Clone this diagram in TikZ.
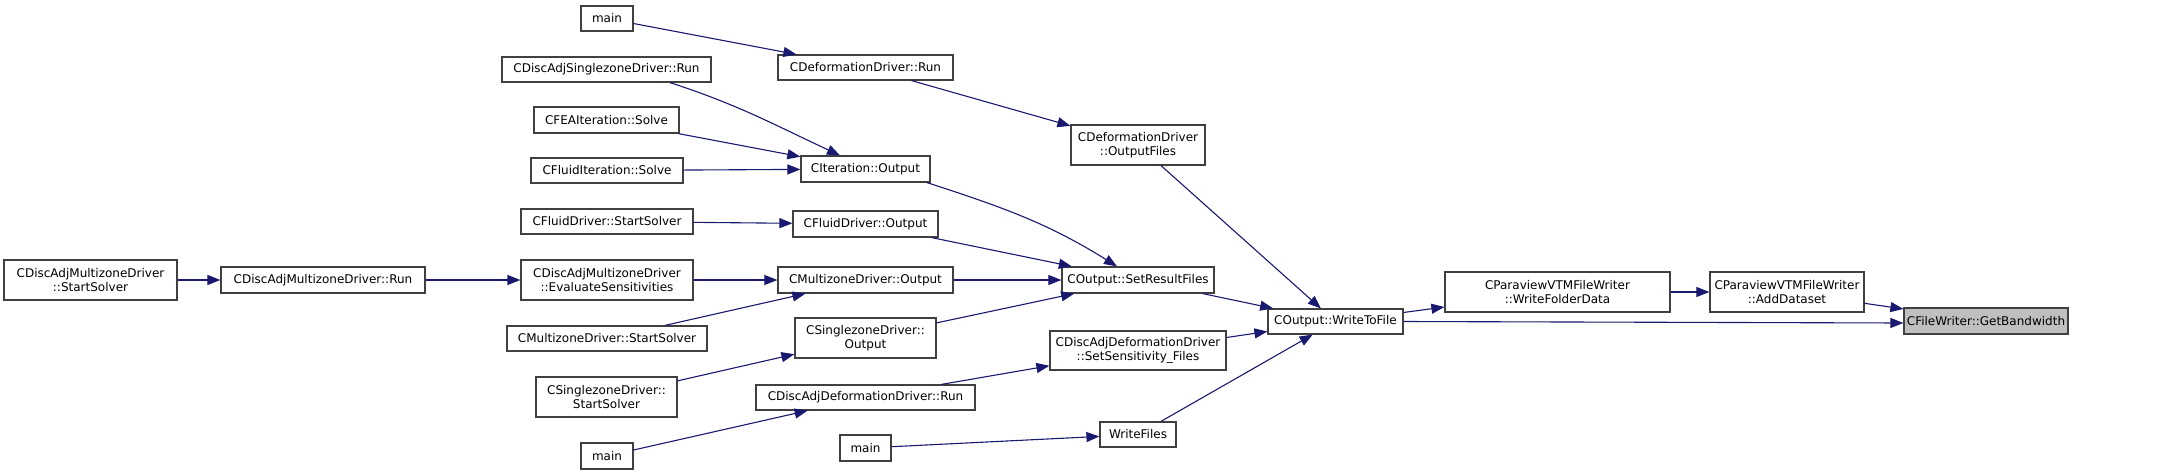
\documentclass[tikz,border=0pt]{standalone}
\usepackage{fontspec}
\setmainfont{DejaVu Sans}
\usetikzlibrary{arrows.meta}
\definecolor{edgec}{HTML}{191970}
\definecolor{boxc}{HTML}{404040}
\definecolor{hilite}{HTML}{BFBFBF}
\tikzset{
  box/.style={draw=boxc, line width=1.2pt, inner sep=0pt, align=center, fill=white,
    font=\fontsize{12}{14.5}\selectfont},
  edge/.style={draw=edgec, line width=1.1pt, -{Triangle[length=13pt,width=10pt]}, color=edgec}
}
\begin{document}
\begin{tikzpicture}[x=1pt,y=-1pt]
\useasboundingbox (0,0) rectangle (2172,475);
% column 1
\node[box, minimum width=173pt, minimum height=40pt] (dmzs) at (90.5,280) {CDiscAdjMultizoneDriver\\::StartSolver};
% column 2
\node[box, minimum width=204pt, minimum height=26pt] (dmzr) at (323,280) {CDiscAdjMultizoneDriver::Run};
% column 3
\node[box, minimum width=52pt, minimum height=25pt] (main1) at (607,18.5) {main};
\node[box, minimum width=209pt, minimum height=25pt] (daszr) at (606.5,69.5) {CDiscAdjSinglezoneDriver::Run};
\node[box, minimum width=145pt, minimum height=26pt] (feas) at (606.5,120) {CFEAIteration::Solve};
\node[box, minimum width=152pt, minimum height=25pt] (fis) at (607,170.5) {CFluidIteration::Solve};
\node[box, minimum width=172pt, minimum height=25pt] (fds) at (607,221.5) {CFluidDriver::StartSolver};
\node[box, minimum width=172pt, minimum height=40pt] (evs) at (607,280) {CDiscAdjMultizoneDriver\\::EvaluateSensitivities};
\node[box, minimum width=200pt, minimum height=25pt] (mzs) at (607,338.5) {CMultizoneDriver::StartSolver};
\node[box, minimum width=141pt, minimum height=40pt] (szs) at (606.5,397) {CSinglezoneDriver::\\StartSolver};
\node[box, minimum width=52pt, minimum height=26pt] (main2) at (607,456) {main};
% column 4
\node[box, minimum width=175pt, minimum height=25pt] (defr) at (865.5,67.5) {CDeformationDriver::Run};
\node[box, minimum width=129pt, minimum height=26pt] (itout) at (865.5,169) {CIteration::Output};
\node[box, minimum width=145pt, minimum height=26pt] (fdout) at (865.5,224) {CFluidDriver::Output};
\node[box, minimum width=175pt, minimum height=26pt] (mzout) at (865.5,280) {CMultizoneDriver::Output};
\node[box, minimum width=141pt, minimum height=40pt] (szout) at (865.5,338) {CSinglezoneDriver::\\Output};
\node[box, minimum width=219pt, minimum height=25pt] (dadr) at (865.5,397.5) {CDiscAdjDeformationDriver::Run};
\node[box, minimum width=51pt, minimum height=26pt] (main3) at (865.5,448) {main};
% column 5
\node[box, minimum width=134pt, minimum height=40pt] (defof) at (1138,145) {CDeformationDriver\\::OutputFiles};
\node[box, minimum width=152pt, minimum height=26pt] (srf) at (1138,280) {COutput::SetResultFiles};
\node[box, minimum width=176pt, minimum height=39pt] (ssf) at (1138,350.5) {CDiscAdjDeformationDriver\\::SetSensitivity\_Files};
\node[box, minimum width=76pt, minimum height=25pt] (wf) at (1138,434.5) {WriteFiles};
% column 6+
\node[box, minimum width=135pt, minimum height=25pt] (wtf) at (1335.5,321.5) {COutput::WriteToFile};
\node[box, minimum width=225pt, minimum height=40pt] (wfd) at (1557.5,292) {CParaviewVTMFileWriter\\::WriteFolderData};
\node[box, minimum width=154pt, minimum height=40pt] (ad) at (1787,292) {CParaviewVTMFileWriter\\::AddDataset};
\node[box, fill=hilite, minimum width=164pt, minimum height=26pt] (gb) at (1986,321) {CFileWriter::GetBandwidth};
% edges
\draw[edge] (dmzs) -- (dmzr);
\draw[edge] (dmzr) -- (evs);
\draw[edge] (evs) -- (mzout);
\draw[edge] (mzs) -- (mzout);
\draw[edge] (main1) -- (defr);
\draw[edge] ([xshift=63.5pt]daszr.south) to[out=-18,in=155] ([xshift=-25.5pt]itout.north);
\draw[edge] (feas) -- (itout);
\draw[edge] (fis) -- (itout);
\draw[edge] (fds) -- (fdout);
\draw[edge] (szs) -- (szout);
\draw[edge] (main2) -- (dadr);
\draw[edge] (main3) -- (wf);
\draw[edge] (defr) -- (defof);
\draw[edge] ([xshift=61.5pt]itout.south) to[out=-18,in=148] ([xshift=-21pt]srf.north);
\draw[edge] (fdout) -- (srf);
\draw[edge] (mzout) -- (srf);
\draw[edge] (szout) -- (srf);
\draw[edge] (dadr) -- (ssf);
\draw[edge] (defof) -- (wtf);
\draw[edge] (srf) -- (wtf);
\draw[edge] (ssf) -- (wtf);
\draw[edge] (wf) -- (wtf);
\draw[edge] (wtf) -- (wfd);
\draw[edge] (wtf.east) -- ([yshift=-2pt]gb.west);
\draw[edge] (wfd) -- (ad);
\draw[edge] (ad) -- (gb);
\end{tikzpicture}
\end{document}
